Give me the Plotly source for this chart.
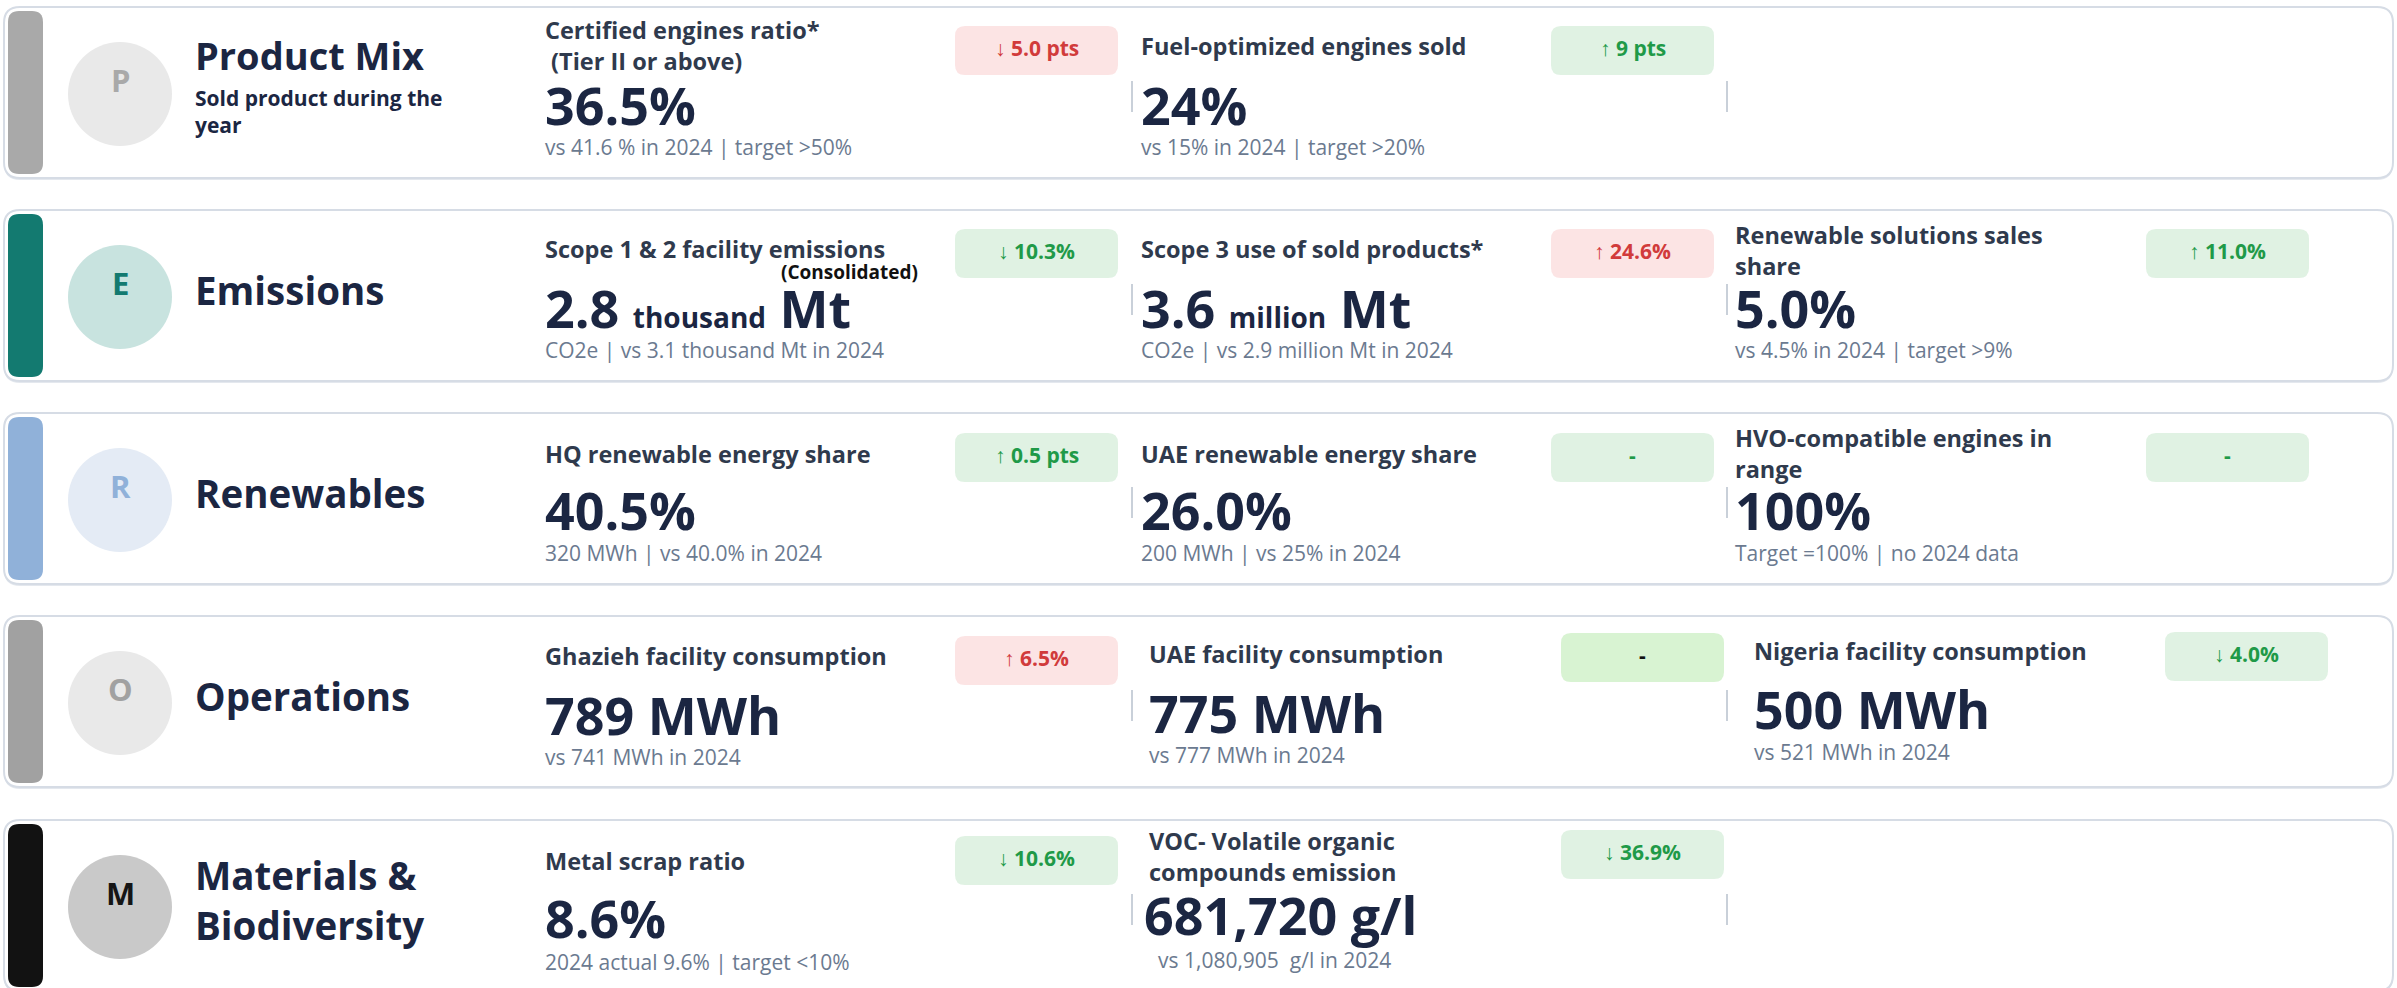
import plotly.graph_objects as go

W, H = 2397, 988

# ---------------- data ----------------
sections = ["Product Mix", "Emissions", "Renewables", "Operations", "Materials &<br>Biodiversity"]
section_notes = ["Sold product during the<br>year", "", "", "", ""]
section_letters = ["P", "E", "R", "O", "M"]

kpi_titles = [
    ["Certified engines ratio*<br> (Tier II or above)", "Fuel-optimized engines sold", None],
    ["Scope 1 & 2 facility emissions", "Scope 3 use of sold products*", "Renewable solutions sales<br>share"],
    ["HQ renewable energy share", "UAE renewable energy share", "HVO-compatible engines in<br>range"],
    ["Ghazieh facility consumption", "UAE facility consumption", "Nigeria facility consumption"],
    ["Metal scrap ratio", "VOC- Volatile organic<br>compounds emission", None],
]
kpi_numbers = [
    ["36.5%", "24%", None],
    ["2.8", "3.6", "5.0%"],
    ["40.5%", "26.0%", "100%"],
    ["789 MWh", "775 MWh", "500 MWh"],
    ["8.6%", "681,720 g/l", None],
]
kpi_scales = [
    ["", "", None],
    ["thousand", "million", ""],
    ["", "", ""],
    ["", "", ""],
    ["", "", None],
]
kpi_units = [
    ["", "", None],
    ["Mt", "Mt", ""],
    ["", "", ""],
    ["", "", ""],
    ["", "", None],
]
kpi_compare = [
    ["vs 41.6 % in 2024 | target >50%", "vs 15% in 2024 | target >20%", None],
    ["CO2e | vs 3.1 thousand Mt in 2024", "CO2e | vs 2.9 million Mt in 2024", "vs 4.5% in 2024 | target >9%"],
    ["320 MWh | vs 40.0% in 2024", "200 MWh | vs 25% in 2024", "Target =100% | no 2024 data"],
    ["vs 741 MWh in 2024", "vs 777 MWh in 2024", "vs 521 MWh in 2024"],
    ["2024 actual 9.6% | target <10%", "vs 1,080,905  g/l in 2024", None],
]
kpi_change = [
    ["↓ 5.0 pts", "↑ 9 pts", None],
    ["↓ 10.3%", "↑ 24.6%", "↑ 11.0%"],
    ["↑ 0.5 pts", "-", "-"],
    ["↑ 6.5%", "-", "↓ 4.0%"],
    ["↓ 10.6%", "↓ 36.9%", None],
]
kpi_trend = [
    ["bad", "good", None],
    ["good", "bad", "good"],
    ["good", "good", "good"],
    ["bad", "flat", "good"],
    ["good", "good", None],
]
scale_notes = [[None, None, None], ["(Consolidated)", None, None], [None] * 3, [None] * 3, [None] * 3]

# ---------------- styles / layout ----------------
FONT = "Open Sans"
NAVY = "#1b2642"
SLATE = "#2f3a4d"
GREY = "#6b7a90"
bar_colors = ["#a9a9a9", "#137a70", "#90b1d9", "#a1a1a1", "#121212"]
circle_fill = ["#e9e9e9", "#c8e3df", "#e4ebf5", "#e9e9e9", "#c9c9c9"]
letter_colors = ["#a9a9a9", "#137a70", "#90b1d9", "#a1a1a1", "#151515"]
badge_bg = {"bad": "#fce4e4", "good": "#e0f2e3", "flat": "#d8f3d2"}
badge_fg = {"bad": "#d13b3b", "good": "#1f9a48", "flat": "#111111"}

tops = [7, 210, 413, 616, 820]
CARD_H = 171
col_x = [[543, 1139, 1733], [543, 1139, 1733], [543, 1139, 1733], [543, 1147, 1752], [543, 1147, 1752]]
badge_x = [[955, 1551, 2146], [955, 1551, 2146], [955, 1551, 2146], [955, 1561, 2165], [955, 1561, 2165]]
badge_dy = [[19, 19, 19], [19, 19, 19], [20, 20, 20], [20, 17, 16], [16, 10, 10]]
title_dy = [[38, 39, 39], [39, 39, 40], [41, 41, 40], [40, 38, 35], [41, 36, 36]]
value_dy = [[97, 97, 97], [97, 97, 97], [96, 96, 96], [98, 96, 92], [97, 94, 94]]
sub_dy = [[140, 140, 140], [140, 140, 140], [140, 140, 140], [141, 139, 136], [142, 140, 140]]
value_dx = [[0, 0, 0], [0, 0, 0], [0, 0, 0], [0, 0, 0], [0, -5, 0]]
sub_dx = [[0, 0, 0], [0, 0, 0], [0, 0, 0], [0, 0, 0], [0, 9, 0]]
sep_x = [1132, 1727]


def rrect(x0, y0, x1, y1, r):
    return (f"M{x0+r},{y0} L{x1-r},{y0} Q{x1},{y0} {x1},{y0+r} L{x1},{y1-r} Q{x1},{y1} {x1-r},{y1} "
            f"L{x0+r},{y1} Q{x0},{y1} {x0},{y1-r} L{x0},{y0+r} Q{x0},{y0} {x0+r},{y0} Z")


fig = go.Figure()
fig.add_trace(go.Scatter(x=[0, W], y=[0, H], mode="markers", marker=dict(opacity=0),
                         hoverinfo="skip", showlegend=False))

shapes = []
ann = []

for r, top in enumerate(tops):
    bot = top + CARD_H
    # shadow + card
    shapes.append(dict(type="path", path=rrect(4, top + 2, 2393, bot + 2, 16),
                       fillcolor="#e4e8ee", line=dict(width=0), layer="below"))
    shapes.append(dict(type="path", path=rrect(4, top, 2393, bot, 16),
                       fillcolor="#ffffff", line=dict(color="#d6dce5", width=2), layer="below"))
    # color bar
    shapes.append(dict(type="path", path=rrect(8, top + 4, 43, bot - 4, 11),
                       fillcolor=bar_colors[r], line=dict(width=0)))
    # circle
    cy = top + 87
    shapes.append(dict(type="circle", x0=120 - 52, x1=120 + 52, y0=cy - 52, y1=cy + 52,
                       fillcolor=circle_fill[r], line=dict(width=0)))
    ann.append(dict(x=120, y=cy - 14, text=section_letters[r], xanchor="center", yanchor="middle",
                    font=dict(family=FONT, size=31, color=letter_colors[r], weight=700)))
    # section title
    if section_notes[r]:
        ann.append(dict(x=193, y=top + 48, text=sections[r], xanchor="left", yanchor="middle",
                        font=dict(family=FONT, size=38, color=NAVY, weight=700)))
        ann.append(dict(x=193, y=top + 104, text=section_notes[r], xanchor="left", yanchor="middle",
                        align="left", font=dict(family=FONT, size=21, color=NAVY, weight=700)))
    else:
        ann.append(dict(x=193, y=top + 80, text=sections[r], xanchor="left", yanchor="middle",
                        align="left", font=dict(family=FONT, size=38.5, color=NAVY, weight=700)))
    # separators
    for sx in sep_x:
        shapes.append(dict(type="line", x0=sx, x1=sx, y0=top + 74, y1=top + 105,
                           line=dict(color="#c9d0d9", width=2)))
    # KPIs
    for c in range(3):
        if kpi_titles[r][c] is None:
            continue
        x = col_x[r][c]
        ann.append(dict(x=x, y=top + title_dy[r][c], text=kpi_titles[r][c], xanchor="left",
                        yanchor="middle", align="left",
                        font=dict(family=FONT, size=23.5, color=SLATE, weight=700)))
        txt = kpi_numbers[r][c]
        if kpi_scales[r][c]:
            txt = (f"{txt} <span style='font-size:28px'>{kpi_scales[r][c]}</span> "
                   f"{kpi_units[r][c]}")
        ann.append(dict(x=x + value_dx[r][c], y=top + value_dy[r][c], text=txt, xanchor="left",
                        yanchor="middle", font=dict(family=FONT, size=52, color=NAVY, weight=700)))
        ann.append(dict(x=x + sub_dx[r][c], y=top + sub_dy[r][c], text=kpi_compare[r][c],
                        xanchor="left", yanchor="middle",
                        font=dict(family=FONT, size=21, color=GREY)))
        if scale_notes[r][c]:
            ann.append(dict(x=849, y=top + 62, text=scale_notes[r][c], xanchor="center",
                            yanchor="middle", font=dict(family=FONT, size=19, color="#111111", weight=700)))
        # badge
        bx = badge_x[r][c]
        by = top + badge_dy[r][c]
        t = kpi_trend[r][c]
        shapes.append(dict(type="path", path=rrect(bx, by, bx + 163, by + 49, 10),
                           fillcolor=badge_bg[t], line=dict(width=0)))
        ann.append(dict(x=bx + 81.5, y=by + 22, text=kpi_change[r][c], xanchor="center",
                        yanchor="middle", font=dict(family=FONT, size=21, color=badge_fg[t], weight=700)))

for a in ann:
    a.update(xref="x", yref="y", showarrow=False)

fig.update_layout(
    width=W, height=H, margin=dict(l=0, r=0, t=0, b=0),
    paper_bgcolor="white", plot_bgcolor="white",
    xaxis=dict(range=[0, W], visible=False, fixedrange=True),
    yaxis=dict(range=[H, 0], visible=False, fixedrange=True),
    shapes=shapes, annotations=ann, showlegend=False,
)

fig.write_html("out.html", config={"displayModeBar": False},
               post_script="document.body.style.margin='0';document.body.style.overflow='hidden';")
